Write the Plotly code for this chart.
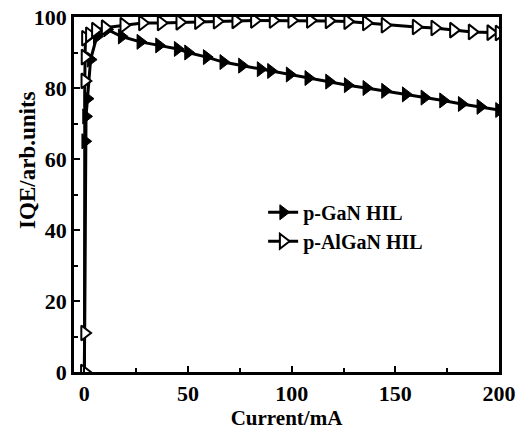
import plotly.graph_objects as go

# Internal quantum efficiency vs injection current for two hole-injection layers
gan_current = [0, 0.4, 0.8, 1.5, 3, 6, 11, 18, 27, 36, 45, 50, 59, 67, 76, 85, 90, 99,
               108, 118, 127, 136, 145, 155, 164, 173, 182, 191, 200]
gan_iqe = [0, 65, 72, 77, 88, 94.5, 96.5, 94.5, 93, 92, 91, 90, 88.7, 87.3, 86.3, 85.3,
           84.8, 83.8, 82.8, 81.8, 80.8, 80, 79.2, 78.2, 77.3, 76.5, 75.5, 74.7, 73.8]

algan_current = [0, 0.1, 0.2, 0.3, 0.5, 2.4, 5.3, 10, 19, 28, 37, 46, 55, 64, 73, 82, 91,
                 100, 109, 118, 127, 136, 145, 160, 169, 178, 187, 196, 200]
algan_iqe = [0, 11, 82, 88.7, 94, 95, 96.3, 97, 97.7, 98.3, 98.3, 98.5, 98.7, 98.8, 98.9,
             99, 99, 99, 99, 98.9, 98.7, 98.3, 97.7, 97.2, 96.9, 96.3, 95.8, 95.6, 95.5]

x_ticks = [0, 50, 100, 150, 200]
y_ticks = [0, 20, 40, 60, 80, 100]

FONT = "Liberation Serif"

fig = go.Figure()
fig.add_trace(go.Scatter(
    x=gan_current, y=gan_iqe, mode="lines+markers", name="p-GaN HIL",
    line=dict(color="black", width=3),
    marker=dict(symbol="triangle-right", size=13, color="black",
                line=dict(color="black", width=1)),
))
fig.add_trace(go.Scatter(
    x=algan_current, y=algan_iqe, mode="lines+markers", name="p-AlGaN HIL",
    line=dict(color="black", width=3),
    marker=dict(symbol="triangle-right", size=13, color="white",
                line=dict(color="black", width=2)),
))

axis_common = dict(
    showgrid=False, zeroline=False, showline=True, linecolor="black", linewidth=2.5,
    mirror=True, ticks="inside", ticklen=6, tickwidth=2, tickcolor="black",
    tickfont=dict(family=FONT, size=22, color="black", weight="bold"),
    automargin=False,
)

fig.update_xaxes(
    range=[-5, 200], tickvals=x_ticks,
    minor=dict(ticks="inside", dtick=25, tick0=0, ticklen=4, tickwidth=1.5, tickcolor="black"),
    title=dict(text="Current/mA", font=dict(family=FONT, size=21, color="black", weight="bold"),
               standoff=0),
    **axis_common,
)
fig.update_yaxes(
    range=[0, 100], tickvals=y_ticks,
    minor=dict(ticks="inside", dtick=10, tick0=0, ticklen=4, tickwidth=1.5, tickcolor="black"),
    **axis_common,
)

fig.add_annotation(
    text="IQE/arb.units", textangle=-90, xref="paper", yref="paper",
    x=-0.108, y=0.595, showarrow=False, xanchor="center", yanchor="middle",
    font=dict(family=FONT, size=23, color="black", weight="bold"),
)

fig.update_layout(
    width=520, height=433,
    margin=dict(l=74, r=21, t=17, b=61),
    paper_bgcolor="white", plot_bgcolor="white",
    showlegend=True,
    legend=dict(x=0.445, y=0.505, xanchor="left", yanchor="top",
                bgcolor="rgba(0,0,0,0)", borderwidth=0,
                font=dict(family=FONT, size=20, color="black", weight="bold"),
                tracegroupgap=0),
)

fig.write_html("out.html")
